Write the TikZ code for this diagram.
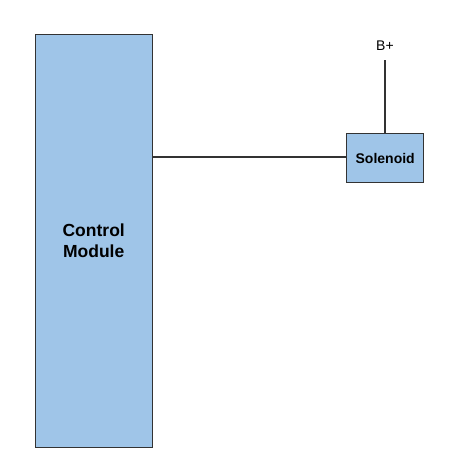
\documentclass[tikz,border=0pt]{standalone}
\usepackage{fontspec}
\setmainfont{Liberation Sans}
\definecolor{boxfill}{HTML}{9FC5E8}
\definecolor{boxline}{HTML}{333333}
\begin{document}
\begin{tikzpicture}[x=1pt,y=-1pt,
  blockbox/.style={draw=boxline,fill=boxfill,line width=1.4pt,inner sep=0pt},
  wire/.style={draw=boxline,line width=1.4pt}]
\useasboundingbox (0,0) rectangle (466,458);
\node[blockbox,minimum width=117pt,minimum height=413pt,anchor=north west,
  align=center,font=\fontsize{17.5}{21}\selectfont\bfseries] (cm) at (34.5,34) {Control\\Module};
\node[blockbox,minimum width=77pt,minimum height=49pt,anchor=north west,
  font=\fontsize{14}{16}\selectfont\bfseries] (sol) at (346,133) {Solenoid};
\node[font=\fontsize{14}{16}\selectfont] (bp) at (385,46) {B+};
\coordinate (top) at (385,60);
\draw[wire] (cm.east |- 0,157) -- (sol.west |- 0,157);
\draw[wire] (top) -- (sol.north -| top);
\end{tikzpicture}
\end{document}
